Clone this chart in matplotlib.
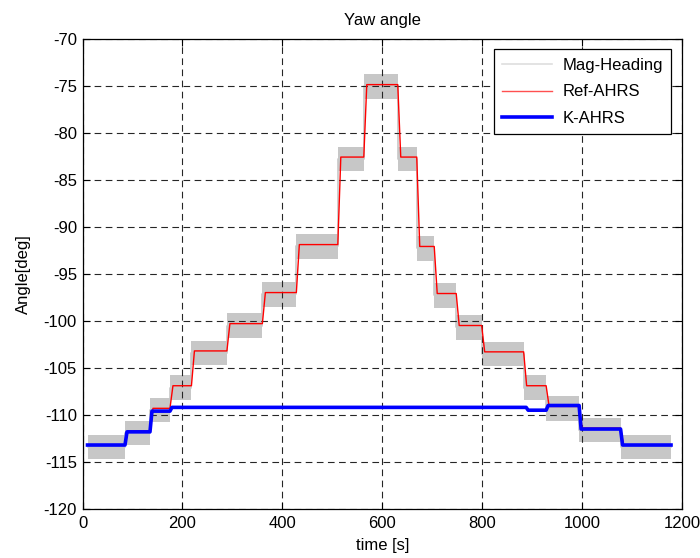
import numpy as np
import matplotlib.pyplot as plt
from matplotlib.lines import Line2D

plt.rcParams['font.family'] = ['Liberation Sans', 'DejaVu Sans']
plt.rcParams['font.size'] = 12
plt.rcParams['axes.unicode_minus'] = False

# step switch times [s] and plateau levels [deg]
ref_t = [10, 85, 135, 175, 218, 289, 360, 428, 511, 563, 631, 669, 704, 748, 799, 883, 928, 994, 1077]
ref_level = [-113.2, -111.7, -109.3, -106.9, -103.2, -100.3, -97.0, -91.9, -82.6, -74.9,
             -82.6, -92.1, -97.1, -100.5, -103.3, -106.9, -109.1, -111.4, -113.2]
t_end = 1178

k_t = [10, 85, 135, 175, 888, 928, 994, 1077]
k_level = [-113.2, -111.8, -109.6, -109.2, -109.5, -109.0, -111.5, -113.2]

# spread of the magnetometer heading around each plateau
mag_up = 1.1
mag_down = 1.5


def ramp_line(times, levels, end, ramp):
    xs, ys = [times[0]], [levels[0]]
    for i in range(1, len(times)):
        xs += [times[i], times[i] + ramp]
        ys += [levels[i - 1], levels[i]]
    xs.append(end)
    ys.append(levels[-1])
    return np.array(xs), np.array(ys)


fig = plt.figure(figsize=(7, 5.58), dpi=100)
ax = fig.add_axes([0.1179, 0.0878, 0.8564, 0.8432])

# Mag-Heading band
st = np.array(ref_t + [t_end])
sl = np.array(ref_level + [ref_level[-1]])
ax.fill_between(st, sl - mag_down, sl + mag_up, step='post', color='0.78', lw=0, zorder=1)
ax.step(st, sl - 0.2, where='post', color='0.78', lw=1.2, zorder=1)

x, y = ramp_line(ref_t, ref_level, t_end, 6)
ax.plot(x, y, color='red', lw=1.0, zorder=2)

x, y = ramp_line(k_t, k_level, t_end, 4)
ax.plot(x, y, color='blue', lw=2.6, zorder=3)

ax.set_xlim(0, 1200)
ax.set_ylim(-120, -70)
ax.set_xticks(np.arange(0, 1201, 200))
ax.set_yticks(np.arange(-120, -69, 5))
ax.grid(True, color='0.15', linestyle=(0, (6, 4)), lw=0.8)
ax.tick_params(direction='in', top=True, right=True, length=5, width=0.8)
ax.tick_params(axis='x', pad=5)
ax.tick_params(axis='y', pad=4)
for s in ax.spines.values():
    s.set_linewidth(0.9)

ax.set_title('Yaw angle', fontsize=12, pad=10)
ax.set_xlabel('time [s]', labelpad=5)
ax.set_ylabel('Angle[deg]', labelpad=9)

handles = [Line2D([], [], color='0.87', lw=1.2),
           Line2D([], [], color='#ff5050', lw=1.0),
           Line2D([], [], color='blue', lw=2.6)]
leg = ax.legend(handles, ['Mag-Heading', 'Ref-AHRS', 'K-AHRS'], loc='upper right',
                fancybox=False, framealpha=1, edgecolor='k', borderaxespad=0.65,
                handlelength=3.0, labelspacing=0.7, handletextpad=0.6, borderpad=0.5)
leg.get_frame().set_linewidth(0.9)

plt.savefig('out.png', dpi=100)
